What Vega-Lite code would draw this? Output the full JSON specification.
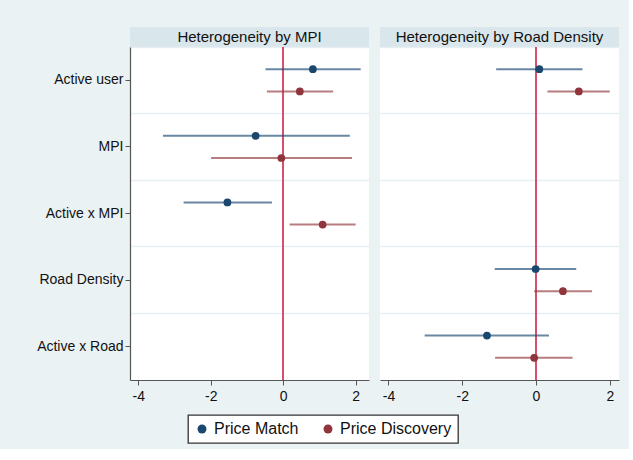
{
  "$schema": "https://vega.github.io/schema/vega-lite/v6.json",
  "background": "#eaf2f3",
  "padding": {"left": 36, "top": 27, "right": 10, "bottom": 5},
  "data": {"values": [
    {"panel": "MPI", "term": "Active user", "model": "Price Match", "est": 0.82, "lo": -0.49, "hi": 2.14},
    {"panel": "MPI", "term": "Active user", "model": "Price Discovery", "est": 0.46, "lo": -0.45, "hi": 1.38},
    {"panel": "MPI", "term": "MPI", "model": "Price Match", "est": -0.76, "lo": -3.32, "hi": 1.84},
    {"panel": "MPI", "term": "MPI", "model": "Price Discovery", "est": -0.05, "lo": -1.99, "hi": 1.90},
    {"panel": "MPI", "term": "Active x MPI", "model": "Price Match", "est": -1.54, "lo": -2.75, "hi": -0.31},
    {"panel": "MPI", "term": "Active x MPI", "model": "Price Discovery", "est": 1.09, "lo": 0.18, "hi": 2.0},
    {"panel": "Road", "term": "Active user", "model": "Price Match", "est": 0.09, "lo": -1.08, "hi": 1.26},
    {"panel": "Road", "term": "Active user", "model": "Price Discovery", "est": 1.16, "lo": 0.31, "hi": 2.0},
    {"panel": "Road", "term": "Road Density", "model": "Price Match", "est": -0.01, "lo": -1.12, "hi": 1.09},
    {"panel": "Road", "term": "Road Density", "model": "Price Discovery", "est": 0.73, "lo": -0.05, "hi": 1.52},
    {"panel": "Road", "term": "Active x Road", "model": "Price Match", "est": -1.33, "lo": -3.02, "hi": 0.35},
    {"panel": "Road", "term": "Active x Road", "model": "Price Discovery", "est": -0.05, "lo": -1.11, "hi": 0.99}
  ]},
  "spacing": 11,
  "resolve": {"scale": {"color": "shared"}, "legend": {"color": "shared"}},
  "hconcat": [
    {
      "spacing": 0,
      "bounds": "flush",
      "vconcat": [
        {
          "width": 239, "height": 20,
          "view": {"fill": "#d9e6eb", "stroke": null},
          "data": {"values": [{"title": "Heterogeneity by MPI"}]},
          "mark": {"type": "text", "fontSize": 15, "font": "Liberation Sans", "color": "#111"},
          "encoding": {"text": {"field": "title"}}
        },
        {
          "width": 239, "height": 333,
          "view": {"fill": "white", "stroke": null},
          "transform": [{"filter": "datum.panel === 'MPI'"}],
          "layer": [
            {
              "mark": {"type": "rule", "color": "#d6506f", "strokeWidth": 1.6},
              "encoding": {"x": {"datum": 0, "scale": {"domain": [-4.23, 2.37], "nice": false, "zero": false}}}
            },
            {
              "mark": {"type": "rule", "strokeWidth": 2, "strokeOpacity": 0.65},
              "encoding": {
                "x": {"field": "lo", "type": "quantitative", "scale": {"domain": [-4.23, 2.37], "nice": false, "zero": false},
                      "axis": {"values": [-4, -2, 0, 2], "title": null, "grid": false, "labelExpr": "replace(datum.label, '\u2212', '-')"}},
                "x2": {"field": "hi"},
                "y": {"field": "term", "type": "nominal",
                      "scale": {"domain": ["Active user", "MPI", "Active x MPI", "Road Density", "Active x Road"], "paddingInner": 0, "paddingOuter": 0},
                      "axis": {"title": null, "orient": "left", "grid": false}},
                "yOffset": {"field": "model", "type": "nominal", "scale": {"domain": ["Price Match", "Price Discovery"], "paddingInner": 0, "paddingOuter": 0.5}},
                "color": {"field": "model", "type": "nominal",
                          "scale": {"domain": ["Price Match", "Price Discovery"], "range": ["#1a476f", "#90353b"]}}
              }
            },
            {
              "mark": {"type": "point", "filled": true, "opacity": 1, "size": 60},
              "encoding": {
                "x": {"field": "est", "type": "quantitative", "scale": {"domain": [-4.23, 2.37], "nice": false, "zero": false}},
                "y": {"field": "term", "type": "nominal",
                      "scale": {"domain": ["Active user", "MPI", "Active x MPI", "Road Density", "Active x Road"], "paddingInner": 0, "paddingOuter": 0},
                      "axis": {"title": null, "orient": "right", "grid": true, "gridColor": "#e6eef1", "gridWidth": 1.5, "bandPosition": 0, "labels": false, "ticks": false, "domain": false}},
                "yOffset": {"field": "model", "type": "nominal", "scale": {"domain": ["Price Match", "Price Discovery"], "paddingInner": 0, "paddingOuter": 0.5}},
                "color": {"field": "model", "type": "nominal"}
              }
            }
          ],
          "resolve": {"axis": {"y": "independent"}}
        }
      ]
    },
    {
      "spacing": 0,
      "bounds": "flush",
      "vconcat": [
        {
          "width": 239, "height": 20,
          "view": {"fill": "#d9e6eb", "stroke": null},
          "data": {"values": [{"title": "Heterogeneity by Road Density"}]},
          "mark": {"type": "text", "fontSize": 15, "font": "Liberation Sans", "color": "#111"},
          "encoding": {"text": {"field": "title"}}
        },
        {
          "width": 239, "height": 333,
          "view": {"fill": "white", "stroke": null},
          "transform": [{"filter": "datum.panel === 'Road'"}],
          "layer": [
            {
              "mark": {"type": "rule", "color": "#d6506f", "strokeWidth": 1.6},
              "encoding": {"x": {"datum": 0, "scale": {"domain": [-4.23, 2.25], "nice": false, "zero": false}}}
            },
            {
              "mark": {"type": "rule", "strokeWidth": 2, "strokeOpacity": 0.65},
              "encoding": {
                "x": {"field": "lo", "type": "quantitative", "scale": {"domain": [-4.23, 2.25], "nice": false, "zero": false},
                      "axis": {"values": [-4, -2, 0, 2], "title": null, "grid": false, "labelExpr": "replace(datum.label, '\u2212', '-')"}},
                "x2": {"field": "hi"},
                "y": {"field": "term", "type": "nominal",
                      "scale": {"domain": ["Active user", "MPI", "Active x MPI", "Road Density", "Active x Road"], "paddingInner": 0, "paddingOuter": 0},
                      "axis": {"title": null, "orient": "left", "grid": false, "labels": false, "ticks": false, "domain": false}},
                "yOffset": {"field": "model", "type": "nominal", "scale": {"domain": ["Price Match", "Price Discovery"], "paddingInner": 0, "paddingOuter": 0.5}},
                "color": {"field": "model", "type": "nominal",
                          "scale": {"domain": ["Price Match", "Price Discovery"], "range": ["#1a476f", "#90353b"]}}
              }
            },
            {
              "mark": {"type": "point", "filled": true, "opacity": 1, "size": 60},
              "encoding": {
                "x": {"field": "est", "type": "quantitative", "scale": {"domain": [-4.23, 2.25], "nice": false, "zero": false}},
                "y": {"field": "term", "type": "nominal",
                      "scale": {"domain": ["Active user", "MPI", "Active x MPI", "Road Density", "Active x Road"], "paddingInner": 0, "paddingOuter": 0},
                      "axis": {"title": null, "orient": "right", "grid": true, "gridColor": "#e6eef1", "gridWidth": 1.5, "bandPosition": 0, "labels": false, "ticks": false, "domain": false}},
                "yOffset": {"field": "model", "type": "nominal", "scale": {"domain": ["Price Match", "Price Discovery"], "paddingInner": 0, "paddingOuter": 0.5}},
                "color": {"field": "model", "type": "nominal"}
              }
            }
          ],
          "resolve": {"axis": {"y": "independent"}}
        }
      ]
    }
  ],
  "config": {
    "font": "Liberation Sans",
    "axis": {"labelFont": "Liberation Sans", "labelFontSize": 14, "labelColor": "#111", "domainColor": "#555", "tickColor": "#555", "tickSize": 5, "labelPadding": 2, "domainWidth": 1.2},
    "axisY": {"labelPadding": 2},
    "axisX": {"labelPadding": 4},
    "legend": {"orient": "none", "legendX": 58, "legendY": 388, "direction": "horizontal", "title": null, "fillColor": "white", "strokeColor": "#333", "strokeWidth": 1.3, "padding": 6,
               "labelFont": "Liberation Sans", "labelFontSize": 16, "labelColor": "#111", "symbolType": "circle", "symbolSize": 80, "symbolOpacity": 1,
               "columnPadding": 21, "symbolStrokeWidth": 0}
  }
}
